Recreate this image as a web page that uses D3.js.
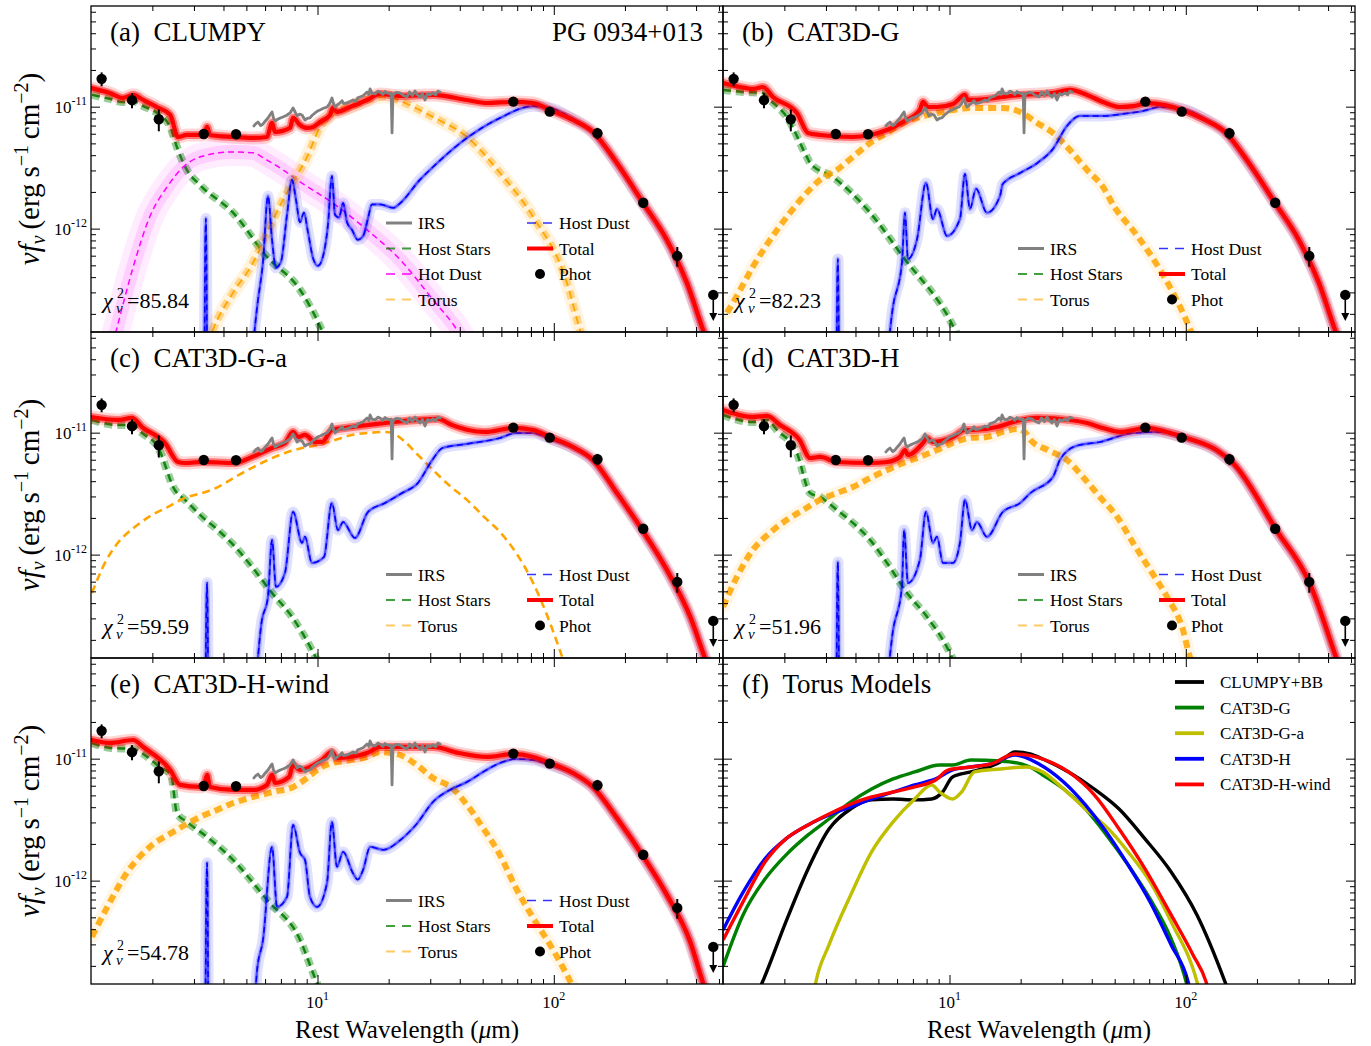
<!DOCTYPE html>
<html>
<head>
<meta charset="utf-8">
<script src="https://cdn.jsdelivr.net/npm/d3@7/dist/d3.min.js"></script>
<style>
html,body{margin:0;padding:0;background:#fff;}
svg text{font-family:"Liberation Serif","Times New Roman",Times,serif;fill:#000;}
</style>
</head>
<body>
<svg id="chart" width="1371" height="1046"></svg>
<script>
// ---------------- DATA (wavelength in micron, flux in units of 1e-12 erg s^-1 cm^-2) ----------------
const FLUX_UNIT = 1e-12;
const xDomain = [1.1, 520];
const yDomain = [1.42e-13, 6.69e-11];
const xMajorTicks = [10, 100];
const xMinorTicks = [2,3,4,5,6,7,8,9,20,30,40,50,60,70,80,90,200,300,400,500];
const yMajorTicks = [1e-12, 1e-11];
const yMinorTicks = [2e-13,3e-13,4e-13,5e-13,6e-13,7e-13,8e-13,9e-13,2e-12,3e-12,4e-12,5e-12,6e-12,7e-12,8e-12,9e-12,2e-11,3e-11,4e-11,5e-11,6e-11];
const xTickLabels = ["1", "2"];          // exponents of 10^1, 10^2
const yTickLabels = ["-12", "-11"];      // exponents of 10^-12, 10^-11

const photLam  = [1.22, 1.64, 2.13, 3.30, 4.52, 67.4, 96.1, 153, 239, 333];
const photFlux = [16.9, 11.3, 7.88, 5.97, 5.94, 11.0, 9.1, 6.05, 1.63, 0.597];
const photErr  = [2.2, 1.6, 1.6, 0, 0, 0.25, 0.2, 0.65, 0.08, 0.11];
const upperLam  = [473];
const upperFlux = [0.286];

const irsSpec = [[5.38,6.95],[5.5,7.3],[5.60,7.48],[5.75,7.0],[5.88,7.21],[6.0,7.6],[6.17,8.08],[6.3,8.6],[6.42,9.05],[6.52,8.0],[6.61,7.63],[6.8,7.9],[7.0,8.1],[7.14,8.23],[7.4,8.5],[7.65,8.88],[7.88,9.76],[8.05,9.0],[8.19,8.39],[8.4,8.7],[8.60,8.55],[8.85,7.78],[9.05,8.0],[9.29,8.08],[9.5,8.5],[9.76,8.88],[10.0,9.2],[10.25,9.40],[10.6,9.7],[10.97,9.94],[11.25,10.6],[11.51,11.79],[11.7,10.5],[11.86,9.94],[12.1,10.3],[12.45,10.72],[12.7,11.2],[12.9,10.6],[13.33,10.72],[13.7,11.0],[14.13,11.35],[14.5,11.1],[14.8,11.8],[15.13,12.01],[15.6,12.3],[16.2,13.20],[16.5,12.6],[16.68,13.97],[17.0,12.9],[17.51,12.71],[18.0,13.4],[18.39,13.20],[18.9,12.6],[19.3,13.3],[19.68,12.95],[20.2,12.8],[20.5,12.9],[20.67,6.09],[20.85,12.47],[21.5,13.1],[22.35,12.95],[23.0,12.4],[23.91,12.01],[24.5,13.2],[25.2,12.3],[25.86,13.45],[26.4,12.6],[27.14,12.01],[27.8,12.8],[28.50,11.35],[29.2,12.8],[29.92,12.47],[30.8,13.0],[31.6,12.5],[32.3,13.4],[33.0,13.20]];

// (a) CLUMPY
const totalA = [[1.11,14.2],[1.32,12.95],[1.50,11.8],[1.66,12.5],[1.83,11.35],[2.09,9.94],[2.38,8.55],[2.57,5.64],[2.80,5.86],[3.18,5.86],[3.30,5.9],[3.41,6.82],[3.51,5.86],[4.39,5.64],[5.33,5.54],[6.11,5.64],[6.42,7.35],[6.61,6.20],[7.65,6.69],[7.88,8.08],[8.43,7.08],[9.03,6.69],[9.57,6.82],[10.25,7.48],[11.29,8.55],[11.63,9.76],[12.09,9.05],[13.72,9.94],[16.2,11.35],[18.39,12.71],[22.35,12.24],[30.8,12.47],[42.9,11.35],[52.1,10.72],[67.4,10.93],[81.7,10.72],[96.4,9.40],[120.6,7.78],[146.6,6.20],[185,3.45],[239,1.62],[301,0.808],[366,0.359],[428,0.148],[505,0.062]];
const starsA = [[1.11,12.5],[1.32,11.6],[1.50,10.9],[1.66,11.1],[1.83,10.1],[2.09,8.9],[2.38,6.82],[2.54,4.67],[2.80,3.03],[3.18,2.28],[4.39,1.35],[6.11,0.587],[8.43,0.315],[10.04,0.172],[10.9,0.12]];
const hotDustA = [[1.30,0.08],[1.41,0.148],[1.66,0.486],[1.95,1.25],[2.31,2.20],[2.70,3.20],[3.18,3.87],[4.39,4.25],[5.33,4.18],[6.11,3.65],[7.14,3.03],[8.43,2.42],[11.6,1.62],[16.2,0.976],[22.4,0.554],[30.8,0.261],[38.9,0.148],[45,0.09]];
const torusA = [[3.3,0.09],[3.61,0.148],[4.39,0.298],[5.33,0.523],[6.11,0.92],[7.14,1.72],[7.88,2.42],[9.03,3.87],[10.25,6.82],[11.6,8.88],[13.7,9.94],[16.2,11.35],[19.3,12.2],[22.4,11.1],[30.8,8.23],[42.9,5.64],[59.2,2.86],[81.7,1.25],[113.7,0.359],[129,0.148],[140,0.09]];
const hostDustA = [[3.30,0.01],[3.37,1.21],[3.44,0.01],[5.05,0.05],[5.60,0.261],[5.88,0.533],[6.17,1.85],[6.42,0.81],[6.67,0.477],[7.0,0.533],[7.43,1.30],[7.80,2.51],[8.11,1.72],[8.43,1.13],[8.76,1.35],[9.11,0.94],[9.57,0.574],[10.04,0.495],[10.5,0.574],[11.07,1.07],[11.51,2.70],[11.86,1.30],[12.33,1.23],[12.83,1.62],[13.33,1.13],[14.0,0.976],[14.8,0.81],[15.6,0.871],[16.3,1.18],[17.0,1.58],[18.4,1.58],[20.9,1.48],[22.4,1.62],[27.1,2.51],[30.8,3.20],[42.9,5.54],[59.2,8.08],[81.7,10.1],[96.4,9.76],[120.6,7.93],[146.6,6.09],[185,3.39],[239,1.59],[301,0.793],[366,0.352],[428,0.145],[505,0.06]];

// (b) CAT3D-G
const totalB = [[1.10,15.64],[1.30,14.50],[1.47,13.97],[1.625,14.50],[1.79,12.01],[2.26,8.88],[2.52,6.09],[2.83,5.86],[3.9,5.64],[4.61,5.86],[5.44,6.44],[6.36,7.49],[7.49,9.40],[7.72,10.93],[8.11,9.94],[8.85,9.94],[10.34,10.52],[11.63,12.47],[11.97,11.35],[14.4,11.56],[16.8,12.01],[19.9,12.47],[27.4,12.95],[32.3,13.71],[38.2,12.47],[44.6,10.93],[52.6,9.94],[59.8,10.1],[69.1,10.7],[81.7,10.3],[96.4,9.40],[120.6,7.78],[146.6,6.20],[185,3.45],[239,1.62],[301,0.808],[366,0.359],[428,0.148],[505,0.062]];
const starsB = [[1.10,13.71],[1.337,13.2],[1.625,12.95],[1.74,11.35],[2.05,8.23],[2.49,3.87],[2.57,3.45],[3.21,2.65],[4.61,1.35],[6.36,0.586],[10.04,0.178],[11.4,0.109]];
const torusB = [[1.144,0.204],[1.30,0.314],[1.47,0.485],[1.74,0.808],[2.05,1.25],[2.40,1.82],[2.83,2.51],[3.34,3.03],[3.90,3.87],[4.61,5.04],[5.44,6.09],[6.36,7.35],[7.49,8.23],[8.85,8.88],[10.34,9.40],[12.2,9.76],[14.4,9.76],[16.8,9.76],[19.9,9.05],[23.5,7.35],[27.4,6.09],[32.3,4.42],[38.2,3.03],[44.6,2.20],[49.8,1.51],[61.0,0.922],[77.8,0.459],[91.5,0.260],[107,0.132],[115,0.09]];
const hostDustB = [[3.30,0.01],[3.37,0.564],[3.44,0.01],[5.23,0.05],[5.77,0.232],[6.29,0.523],[6.48,1.35],[6.67,0.564],[7.29,0.823],[7.95,2.37],[8.51,1.20],[8.85,1.45],[9.76,0.871],[11.07,1.20],[11.63,2.81],[12.2,1.45],[12.95,2.12],[14.4,1.35],[16.35,1.85],[16.8,2.32],[19.9,2.86],[23.5,3.45],[27.4,4.50],[31.4,6.95],[35.6,8.39],[44.6,8.39],[54.2,8.72],[65.9,9.22],[77.8,9.94],[96.4,9.58],[120.6,7.93],[146.6,6.09],[185,3.39],[239,1.59],[301,0.793],[366,0.352],[428,0.145],[505,0.06]];

// (c) CAT3D-G-a
const totalC = [[1.10,13.45],[1.43,12.71],[1.64,13.20],[1.81,11.12],[2.26,8.23],[2.57,5.75],[2.75,5.64],[3.25,5.75],[4.48,5.64],[5.28,6.32],[6.42,7.49],[7.28,8.23],[7.88,10.14],[8.27,9.22],[8.85,9.58],[9.76,8.39],[10.45,8.39],[11.5,10.52],[13.06,10.93],[16.35,11.56],[19.3,12.01],[26.6,12.71],[32.3,12.95],[37.1,11.56],[43.4,10.52],[51.2,10.14],[67.2,10.93],[81.7,10.52],[96.4,9.22],[120.6,7.63],[146.6,5.97],[185,3.20],[240,1.53],[301,0.750],[378,0.309],[436,0.142],[520,0.055]];
const starsC = [[1.11,12.71],[1.43,11.56],[1.64,11.56],[1.81,9.94],[2.11,7.63],[2.49,3.39],[2.75,2.81],[3.25,2.04],[3.79,1.59],[4.48,1.16],[5.28,0.793],[6.42,0.485],[7.80,0.309],[9.47,0.165],[10.3,0.12]];
const torusC = [[1.11,0.485],[1.26,0.855],[1.43,1.25],[1.69,1.69],[2.0,2.12],[2.33,2.46],[2.75,2.92],[3.25,3.20],[3.79,3.58],[4.48,4.33],[5.28,5.14],[6.17,5.97],[7.28,6.82],[8.60,7.49],[10.04,7.93],[11.86,8.72],[14.0,9.58],[16.35,9.94],[19.3,10.14],[20.7,9.94],[23.5,8.39],[26.6,6.57],[30.8,4.94],[36.8,3.58],[42.9,2.81],[51.2,2.0],[59.2,1.53],[81.7,0.587],[106,0.165],[112,0.12]];
const hostDustC = [[3.33,0.01],[3.41,0.587],[3.48,0.01],[5.28,0.05],[5.82,0.292],[6.17,0.451],[6.42,1.32],[6.67,0.544],[7.28,0.709],[7.88,2.24],[8.60,1.25],[8.85,1.40],[9.47,0.855],[10.65,0.957],[11.5,2.65],[12.2,1.59],[12.83,1.85],[14.4,1.37],[16.35,2.24],[19.3,2.65],[22.8,3.20],[26.6,3.87],[30.6,5.97],[33.8,7.49],[42.9,8.08],[59.2,9.05],[69.1,9.94],[81.7,9.94],[96.4,8.88],[120.6,7.5],[146.6,5.85],[185,3.18],[240,1.51],[301,0.74],[378,0.305],[436,0.14],[520,0.054]];

// (d) CAT3D-H
const totalD = [[1.10,15.35],[1.47,13.45],[1.69,13.71],[1.92,11.56],[2.32,8.72],[2.57,6.20],[2.83,6.32],[3.34,5.75],[4.61,5.64],[5.44,5.75],[6.17,6.32],[6.48,7.21],[6.67,6.57],[7.72,8.23],[8.03,9.05],[8.51,8.39],[10.34,9.22],[11.63,10.52],[12.57,10.52],[15.9,11.12],[18.56,12.24],[23.5,13.20],[32.3,12.71],[38.2,12.01],[44.6,10.93],[52.6,10.14],[68.5,10.93],[83.2,10.14],[100.9,9.05],[135,7.21],[158.4,5.64],[242,1.59],[334,0.586],[436,0.137],[520,0.05]];
const starsD = [[1.10,13.97],[1.47,12.24],[1.69,12.71],[1.86,10.52],[2.26,6.82],[2.57,3.20],[2.83,2.97],[3.34,2.32],[3.90,1.82],[4.61,1.32],[5.44,0.855],[6.61,0.485],[8.03,0.309],[10.04,0.156],[10.9,0.109]];
const torusD = [[1.10,0.373],[1.26,0.657],[1.47,1.09],[1.74,1.51],[2.05,1.93],[2.40,2.32],[2.83,2.81],[3.34,3.20],[3.90,3.58],[4.61,4.25],[5.44,4.94],[6.36,5.64],[7.49,6.32],[8.85,7.21],[10.34,8.23],[12.2,9.05],[14.4,9.22],[16.8,10.14],[19.3,10.72],[21.0,9.94],[22.0,8.72],[26.0,7.21],[31.4,5.97],[36.7,4.33],[43.3,2.97],[51.2,2.04],[59.8,1.25],[70.6,0.75],[83.2,0.451],[97.3,0.241],[104,0.145],[112,0.1]];
const hostDustD = [[3.30,0.01],[3.37,0.871],[3.44,0.01],[5.23,0.05],[5.77,0.241],[6.29,0.544],[6.42,1.59],[6.67,0.586],[7.49,0.904],[7.95,2.24],[8.51,1.25],[8.85,1.40],[9.38,0.855],[10.34,0.855],[11.07,1.25],[11.63,2.81],[12.45,1.59],[13.06,1.85],[14.4,1.40],[16.8,2.24],[19.9,2.65],[22.0,3.20],[27.4,4.33],[29.3,5.97],[34.3,7.78],[43.3,8.39],[59.8,9.94],[77.8,10.14],[95,9.22],[135,7.1],[158.4,5.55],[242,1.56],[334,0.575],[436,0.134],[520,0.05]];

// (e) CAT3D-H-wind
const totalE = [[1.11,14.23],[1.32,13.45],[1.66,14.23],[1.83,12.47],[2.38,8.08],[2.62,6.09],[3.18,5.86],[3.30,5.97],[3.41,7.35],[3.51,5.86],[4.39,5.54],[5.33,5.54],[6.11,6.09],[6.42,7.35],[6.61,6.32],[7.58,7.08],[7.88,8.88],[8.43,8.08],[9.29,8.55],[10.45,9.76],[11.5,11.35],[12.09,10.14],[13.72,10.33],[16.2,11.12],[18.4,12.47],[22.4,12.47],[30.8,12.47],[39.6,11.12],[52.1,10.33],[67.2,10.93],[81.7,10.33],[96.4,9.22],[120.6,7.63],[146.6,5.86],[185,3.26],[240,1.56],[301,0.764],[378,0.314],[428,0.145],[505,0.06]];
const starsE = [[1.11,13.45],[1.337,12.24],[1.66,12.01],[1.83,10.93],[2.15,8.55],[2.40,7.4],[2.54,3.58],[2.80,3.03],[3.41,2.28],[4.39,1.48],[6.11,0.695],[8.43,0.327],[9.57,0.175],[10.3,0.12]];
const torusE = [[1.11,0.346],[1.29,0.609],[1.56,1.16],[1.95,1.89],[2.45,2.51],[3.18,3.32],[3.75,3.79],[4.39,4.33],[5.33,4.85],[6.48,5.33],[7.88,5.86],[9.03,6.95],[10.25,8.39],[11.63,9.22],[13.72,9.76],[16.2,10.33],[18.4,11.35],[20.3,11.12],[22.4,10.72],[26.3,8.88],[30.8,6.95],[37.1,5.75],[42.9,4.18],[50.2,2.70],[59.2,1.62],[69.1,0.871],[81.7,0.495],[96.4,0.298],[113.7,0.168],[124,0.12]];
const hostDustE = [[3.33,0.01],[3.41,1.40],[3.48,0.01],[5.28,0.05],[5.55,0.185],[5.88,0.327],[6.42,1.89],[6.74,0.609],[7.43,0.736],[7.88,2.86],[8.43,1.69],[8.85,1.48],[9.29,0.736],[9.95,0.609],[10.97,0.957],[11.5,3.03],[12.09,1.30],[12.83,1.72],[14.1,1.16],[14.8,1.02],[15.6,1.23],[16.7,1.89],[19.0,1.79],[22.4,2.15],[26.3,2.92],[30.8,4.42],[36.3,5.54],[42.9,6.44],[50.2,7.78],[59.2,9.22],[69.1,9.94],[81.7,9.76],[96.4,8.88],[120.6,7.5],[146.6,5.78],[185,3.22],[240,1.54],[301,0.755],[378,0.31],[428,0.143],[505,0.06]];

// (f) Torus models
const torusClumpyBB = [[1.57,0.13],[1.617,0.148],[2.03,0.459],[2.52,1.247],[3.09,2.65],[3.82,3.87],[4.68,4.59],[5.77,4.67],[7.12,4.59],[8.40,4.67],[9.35,5.33],[10.3,7.08],[12.3,7.78],[13.8,8.23],[16.4,9.40],[18.9,11.35],[21.9,10.93],[24.8,9.94],[31.9,7.78],[41.0,5.64],[52.2,3.87],[67.2,2.20],[86.7,1.178],[111.5,0.523],[146.5,0.148],[155,0.11]];
const torusCat3dG = [[1.107,0.204],[1.337,0.523],[1.656,1.03],[2.03,1.62],[2.52,2.37],[3.09,3.20],[3.82,4.42],[4.68,5.64],[5.77,6.82],[7.12,7.78],[9.08,8.88],[10.3,8.88],[12.3,9.76],[16.4,9.58],[19.3,9.22],[21.9,8.55],[24.8,7.35],[30.4,5.64],[37.6,3.87],[46.1,2.37],[57.0,1.345],[70.6,0.708],[86.7,0.333],[100.3,0.148],[104,0.11]];
const torusCat3dGa = [[2.62,0.1],[2.72,0.148],[3.09,0.297],[3.82,0.764],[4.68,1.72],[5.77,3.03],[7.12,4.67],[8.40,6.09],[9.08,5.33],[10.3,4.67],[11.25,5.33],[12.75,7.78],[16.4,8.23],[21.0,8.55],[24.8,7.78],[30.4,5.64],[37.6,3.87],[48.4,2.51],[57.0,1.72],[70.6,0.976],[86.7,0.459],[111.5,0.148],[116,0.11]];
const torusCat3dH = [[1.107,0.402],[1.337,0.80],[1.656,1.51],[2.03,2.20],[2.52,2.86],[3.09,3.45],[3.82,4.02],[4.68,4.67],[5.77,5.33],[7.12,6.09],[8.74,6.82],[10.3,8.08],[12.3,8.55],[15.0,9.05],[18.9,10.72],[23.9,9.05],[30.4,6.44],[37.6,4.18],[46.1,2.51],[57.0,1.345],[70.6,0.67],[86.7,0.297],[102.3,0.148],[106,0.11]];
const torusCat3dHwind = [[1.107,0.333],[1.337,0.67],[1.656,1.42],[2.03,2.20],[2.52,2.86],[3.09,3.52],[3.82,4.25],[4.68,4.85],[5.77,5.33],[7.12,5.86],[8.74,6.69],[9.9,8.08],[12.3,8.55],[15.0,9.05],[18.9,10.93],[24.8,9.94],[31.9,7.78],[41.0,5.05],[52.2,2.65],[67.2,1.25],[86.7,0.523],[107.3,0.246],[121.8,0.148],[127,0.11]];

const panelTitles = ["(a)\u2002CLUMPY","(b)\u2002CAT3D-G","(c)\u2002CAT3D-G-a","(d)\u2002CAT3D-H","(e)\u2002CAT3D-H-wind","(f)\u2002Torus Models"];
const chiValues = ["85.84","82.23","59.59","51.96","54.78"];
const objectName = "PG 0934+013";
const torusModelNames = ["CLUMPY+BB","CAT3D-G","CAT3D-G-a","CAT3D-H","CAT3D-H-wind"];
const torusModelColors = ["#000000","#008000","#bfbf00","#0000ff","#ff0000"];

// ---------------- LAYOUT ----------------
const colX = [91, 723], rowY = [6, 332, 658];
const PW = 632, PH = 326;
const svg = d3.select('#chart');
const x = d3.scaleLog().domain(xDomain).range([0, PW]);
const y = d3.scaleLog().domain(yDomain).range([PH, 0]);
const lineSmooth = d3.line().x(d => x(d[0])).y(d => y(d[1] * FLUX_UNIT)).curve(d3.curveMonotoneX);
const lineLin = d3.line().x(d => x(d[0])).y(d => y(d[1] * FLUX_UNIT));

function drawLayers(g, data, color, layers, gen) {
  gen = gen || lineSmooth;
  layers.forEach(L => {
    g.append('path').attr('d', gen(data)).attr('fill', 'none').attr('stroke', color)
      .attr('stroke-width', L.w).attr('stroke-opacity', L.o)
      .attr('stroke-dasharray', L.d || null)
      .attr('stroke-linejoin', 'round').attr('stroke-linecap', L.d ? 'butt' : 'round');
  });
}

const styles = {
  stars: [{w: 8, o: 0.4, d: '8,5'}, {w: 2.5, o: 0.9, d: '8,5'}],
  hot: [{w: 28, o: 0.07}, {w: 14, o: 0.12}, {w: 1.5, o: 1, d: '6,4'}],
  torusBand: [{w: 14, o: 0.12}, {w: 8, o: 0.4, d: '8,5'}, {w: 1.8, o: 1, d: '8,5'}],
  torusThick: [{w: 13, o: 0.1}, {w: 6, o: 0.85, d: '8,5'}],
  torusThin: [{w: 2.6, o: 1, d: '8,5'}],
  dust: [{w: 11, o: 0.12}, {w: 5, o: 0.18}, {w: 2.2, o: 0.6}, {w: 1.5, o: 1, d: '6,4'}],
  total: [{w: 13, o: 0.16}, {w: 8, o: 0.45}, {w: 4.2, o: 1}]
};

const panels = [
  {c: 0, r: 0, stars: starsA, hot: hotDustA, torus: torusA, tstyle: 'torusBand', dust: hostDustA, total: totalA, legTop: 217},
  {c: 1, r: 0, stars: starsB, torus: torusB, tstyle: 'torusThick', dust: hostDustB, total: totalB, legTop: 242.5},
  {c: 0, r: 1, stars: starsC, torus: torusC, tstyle: 'torusThin', dust: hostDustC, total: totalC, legTop: 242.5},
  {c: 1, r: 1, stars: starsD, torus: torusD, tstyle: 'torusThick', dust: hostDustD, total: totalD, legTop: 242.5},
  {c: 0, r: 2, stars: starsE, torus: torusE, tstyle: 'torusThick', dust: hostDustE, total: totalE, legTop: 242.5},
  {c: 1, r: 2, models: [torusClumpyBB, torusCat3dG, torusCat3dGa, torusCat3dH, torusCat3dHwind]}
];

function drawTicks(g) {
  const clean = sel => { sel.select('.domain').remove(); sel.selectAll('line').attr('stroke', '#000').attr('stroke-width', 1); };
  g.append('g').attr('transform', `translate(0,${PH})`).call(d3.axisBottom(x).tickValues(xMinorTicks).tickSize(-5).tickFormat('')).call(clean);
  g.append('g').attr('transform', `translate(0,${PH})`).call(d3.axisBottom(x).tickValues(xMajorTicks).tickSize(-9).tickFormat('')).call(clean);
  g.append('g').call(d3.axisTop(x).tickValues(xMinorTicks).tickSize(-5).tickFormat('')).call(clean);
  g.append('g').call(d3.axisTop(x).tickValues(xMajorTicks).tickSize(-9).tickFormat('')).call(clean);
  g.append('g').call(d3.axisLeft(y).tickValues(yMinorTicks).tickSize(-5).tickFormat('')).call(clean);
  g.append('g').call(d3.axisLeft(y).tickValues(yMajorTicks).tickSize(-9).tickFormat('')).call(clean);
  g.append('g').attr('transform', `translate(${PW},0)`).call(d3.axisRight(y).tickValues(yMinorTicks).tickSize(-5).tickFormat('')).call(clean);
  g.append('g').attr('transform', `translate(${PW},0)`).call(d3.axisRight(y).tickValues(yMajorTicks).tickSize(-9).tickFormat('')).call(clean);
}

function legendItem(g, lx, ly, type, label) {
  const L = g.append('g');
  const seg = () => L.append('line').attr('x1', lx).attr('x2', lx + 26).attr('y1', ly).attr('y2', ly);
  if (type === 'irs') seg().attr('stroke', '#808080').attr('stroke-width', 3);
  if (type === 'stars') seg().attr('stroke', '#008000').attr('stroke-opacity', 0.75).attr('stroke-width', 1.8).attr('stroke-dasharray', '9,7');
  if (type === 'hot') seg().attr('stroke', '#ff00ff').attr('stroke-width', 1.5).attr('stroke-dasharray', '9,7');
  if (type === 'torus') seg().attr('stroke', '#ffa500').attr('stroke-opacity', 0.6).attr('stroke-width', 2).attr('stroke-dasharray', '9,7');
  if (type === 'dust') seg().attr('stroke', '#0000ff').attr('stroke-opacity', 0.8).attr('stroke-width', 1.5).attr('stroke-dasharray', '9,7');
  if (type === 'total') seg().attr('stroke', '#ff0000').attr('stroke-width', 4);
  if (type === 'phot') L.append('circle').attr('cx', lx + 13).attr('cy', ly).attr('r', 5).attr('fill', '#000');
  L.append('text').attr('x', lx + 32).attr('y', ly + 6).style('font-size', '17.5px').text(label);
}

panels.forEach((p, i) => {
  const g = svg.append('g').attr('transform', `translate(${colX[p.c]},${rowY[p.r]})`);
  const cid = 'clip' + i;
  g.append('clipPath').attr('id', cid).append('rect').attr('width', PW).attr('height', PH);
  const plot = g.append('g').attr('clip-path', `url(#${cid})`);

  if (p.models) {
    p.models.forEach((m, k) => drawLayers(plot, m, torusModelColors[k], [{w: 3.4, o: 1}]));
    torusModelNames.forEach((nm, k) => {
      const ly = 24 + k * 25.6;
      g.append('line').attr('x1', 452).attr('x2', 481).attr('y1', ly).attr('y2', ly).attr('stroke', torusModelColors[k]).attr('stroke-width', 3.8);
      g.append('text').attr('x', 497).attr('y', ly + 6).style('font-size', '17px').text(nm);
    });
  } else {
    drawLayers(plot, p.stars, '#008000', styles.stars);
    if (p.hot) drawLayers(plot, p.hot, '#ff00ff', styles.hot);
    drawLayers(plot, p.torus, '#ffa500', styles[p.tstyle]);
    drawLayers(plot, p.dust, '#0000ff', styles.dust);
    drawLayers(plot, p.total, '#ff0000', styles.total);
    drawLayers(plot, irsSpec, '#808080', [{w: 2.8, o: 1}], lineLin);
    // photometry
    photLam.forEach((l, k) => {
      const px = x(l), py = y(photFlux[k] * FLUX_UNIT);
      if (photErr[k] > 0) {
        plot.append('line').attr('x1', px).attr('x2', px)
          .attr('y1', y((photFlux[k] + photErr[k]) * FLUX_UNIT)).attr('y2', y((photFlux[k] - photErr[k]) * FLUX_UNIT))
          .attr('stroke', '#000').attr('stroke-width', 2);
      }
      plot.append('circle').attr('cx', px).attr('cy', py).attr('r', 5.2).attr('fill', '#000');
    });
    upperLam.forEach((l, k) => {
      const px = x(l), py = y(upperFlux[k] * FLUX_UNIT);
      plot.append('line').attr('x1', px).attr('x2', px).attr('y1', py).attr('y2', py + 19).attr('stroke', '#000').attr('stroke-width', 1.6);
      plot.append('path').attr('d', `M${px - 4},${py + 18} L${px + 4},${py + 18} L${px},${py + 26} Z`).attr('fill', '#000');
      plot.append('circle').attr('cx', px).attr('cy', py).attr('r', 5.2).attr('fill', '#000');
    });
    // chi2 label
    const cg = g.append('g').attr('transform', 'translate(12,302)');
    cg.append('text').attr('x', 0).attr('y', 0).style('font-size', '22px').style('font-style', 'italic').text('χ');
    cg.append('text').attr('x', 14).attr('y', -10).style('font-size', '14px').text('2');
    cg.append('text').attr('x', 13).attr('y', 5).style('font-size', '15px').style('font-style', 'italic').text('ν');
    cg.append('text').attr('x', 24).attr('y', 0).style('font-size', '22px').text('=' + chiValues[i]);
    // legend
    const rows = p.hot ? [['irs', 'IRS'], ['stars', 'Host Stars'], ['hot', 'Hot Dust'], ['torus', 'Torus']]
                       : [['irs', 'IRS'], ['stars', 'Host Stars'], ['torus', 'Torus']];
    rows.forEach((rw, k) => legendItem(g, 295, p.legTop + k * 25.5, rw[0], rw[1]));
    [['dust', 'Host Dust'], ['total', 'Total'], ['phot', 'Phot']].forEach((rw, k) => legendItem(g, 436, p.legTop + k * 25.5, rw[0], rw[1]));
  }

  drawTicks(g);
  g.append('rect').attr('width', PW).attr('height', PH).attr('fill', 'none').attr('stroke', '#000').attr('stroke-width', 1.3);
  g.append('text').attr('x', 19).attr('y', 35).style('font-size', '27px').text(panelTitles[i]);
  if (i === 0) g.append('text').attr('x', 612).attr('y', 35).attr('text-anchor', 'end').style('font-size', '27px').text(objectName);

  // y tick labels on left column
  if (p.c === 0) {
    yMajorTicks.forEach((t, k) => {
      const tx = g.append('text').attr('x', -4).attr('y', y(t) + 6).attr('text-anchor', 'end').style('font-size', '17px');
      tx.append('tspan').text('10');
      tx.append('tspan').attr('dy', -8).style('font-size', '12px').text(yTickLabels[k]);
    });
    const yl = svg.append('text').attr('transform', `translate(39,${rowY[p.r] + PH / 2}) rotate(-90)`).attr('text-anchor', 'middle').style('font-size', '29px');
    yl.append('tspan').style('font-style', 'italic').text('νf');
    yl.append('tspan').style('font-style', 'italic').style('font-size', '20px').attr('dy', 6).text('ν');
    yl.append('tspan').attr('dy', -6).text('\u2009(erg\u2009s');
    yl.append('tspan').style('font-size', '20px').attr('dy', -11).text('−1');
    yl.append('tspan').attr('dy', 11).text('\u2009cm');
    yl.append('tspan').style('font-size', '20px').attr('dy', -11).text('−2');
    yl.append('tspan').attr('dy', 11).text(')');
  }
  if (p.r === 2) {
    xMajorTicks.forEach((t, k) => {
      const tx = g.append('text').attr('x', x(t)).attr('y', PH + 24).attr('text-anchor', 'middle').style('font-size', '17px');
      tx.append('tspan').text('10');
      tx.append('tspan').attr('dy', -8).style('font-size', '12px').text(xTickLabels[k]);
    });
    const xl = g.append('text').attr('x', PW / 2).attr('y', PH + 54).attr('text-anchor', 'middle').style('font-size', '25px');
    xl.append('tspan').text('Rest Wavelength (');
    xl.append('tspan').style('font-style', 'italic').text('μ');
    xl.append('tspan').text('m)');
  }
});
</script>
</body>
</html>
